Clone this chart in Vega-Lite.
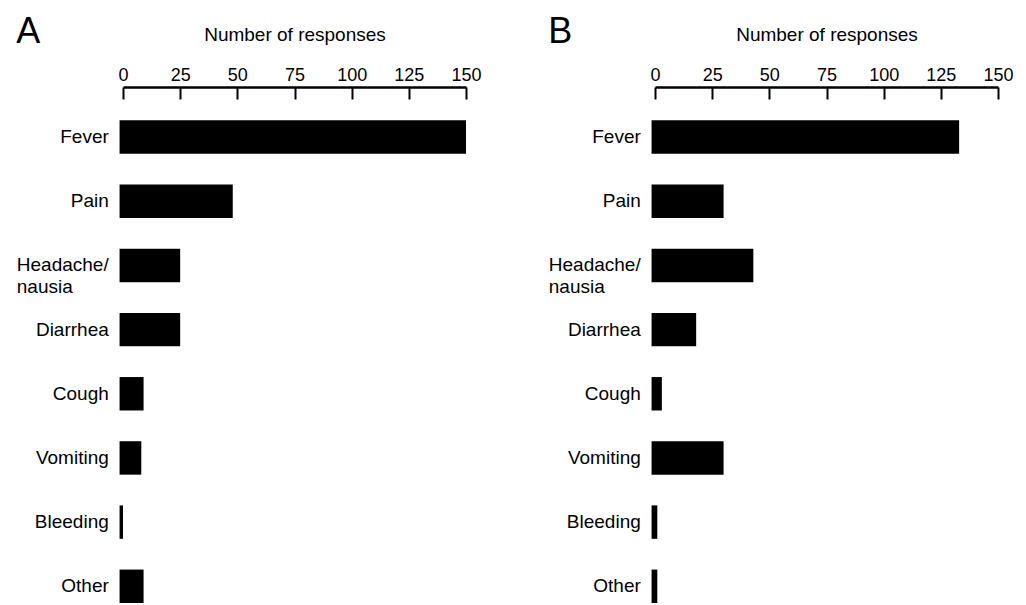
{
  "$schema": "https://vega.github.io/schema/vega-lite/v6.json",
  "padding": {"left": 16, "top": 14, "right": 5, "bottom": 0},
  "spacing": 66,
  "config": {
    "font": "Liberation Sans",
    "view": {"stroke": null},
    "title": {"fontSize": 36, "fontWeight": "normal", "color": "black", "anchor": "start", "frame": "bounds", "baseline": "alphabetic"}
  },
  "data": {
    "values": [
      {"panel": "A", "symptom": "Fever", "count": 150},
      {"panel": "A", "symptom": "Pain", "count": 48},
      {"panel": "A", "symptom": "Headache/nausia", "count": 25},
      {"panel": "A", "symptom": "Diarrhea", "count": 25},
      {"panel": "A", "symptom": "Cough", "count": 9},
      {"panel": "A", "symptom": "Vomiting", "count": 8},
      {"panel": "A", "symptom": "Bleeding", "count": 0},
      {"panel": "A", "symptom": "Other", "count": 9},
      {"panel": "B", "symptom": "Fever", "count": 133},
      {"panel": "B", "symptom": "Pain", "count": 30},
      {"panel": "B", "symptom": "Headache/nausia", "count": 43},
      {"panel": "B", "symptom": "Diarrhea", "count": 18},
      {"panel": "B", "symptom": "Cough", "count": 3},
      {"panel": "B", "symptom": "Vomiting", "count": 30},
      {"panel": "B", "symptom": "Bleeding", "count": 1},
      {"panel": "B", "symptom": "Other", "count": 1}
    ]
  },
  "hconcat": [
    {
      "title": {"text": "A", "dy": 30},
      "width": 343,
      "height": 516,
      "transform": [{"filter": "datum.panel == 'A'"}],
      "mark": {"type": "bar", "color": "black"},
      "encoding": {
        "y": {
          "field": "symptom", "type": "nominal",
          "sort": ["Fever", "Pain", "Headache/nausia", "Diarrhea", "Cough", "Vomiting", "Bleeding", "Other"],
          "scale": {"paddingInner": 0.479, "paddingOuter": 0.26, "align": 1},
          "axis": {"title": null, "domain": false, "ticks": false, "labelFontSize": 19, "labelColor": "black", "labelLineHeight": 22,
                   "labelAlign": {"condition": {"test": "datum.value == 'Headache/nausia'", "value": "left"}, "value": "right"},
                   "labelPadding": {"condition": {"test": "datum.value == 'Headache/nausia'", "value": 106.7}, "value": 14.7},
                   "labelExpr": "datum.value == 'Headache/nausia' ? ['Headache/', 'nausia'] : datum.value"}
        },
        "x": {
          "field": "count", "type": "quantitative",
          "scale": {"domain": [0, 150], "nice": false},
          "axis": {"orient": "top", "values": [0, 25, 50, 75, 100, 125, 150], "title": "Number of responses", "grid": false,
                   "domainWidth": 2.5, "domainColor": "black", "tickColor": "black", "tickWidth": 2, "tickSize": -12,
                   "labelFontSize": 18, "labelColor": "black", "labelPadding": 15, "labelFlush": false,
                   "titleFontSize": 19, "titleFontWeight": "normal", "titleColor": "black", "titlePadding": 22}
        },
        "x2": {"datum": -1.5}
      }
    },
    {
      "title": {"text": "B", "dy": 30},
      "width": 343,
      "height": 516,
      "transform": [{"filter": "datum.panel == 'B'"}],
      "mark": {"type": "bar", "color": "black"},
      "encoding": {
        "y": {
          "field": "symptom", "type": "nominal",
          "sort": ["Fever", "Pain", "Headache/nausia", "Diarrhea", "Cough", "Vomiting", "Bleeding", "Other"],
          "scale": {"paddingInner": 0.479, "paddingOuter": 0.26, "align": 1},
          "axis": {"title": null, "domain": false, "ticks": false, "labelFontSize": 19, "labelColor": "black", "labelLineHeight": 22,
                   "labelAlign": {"condition": {"test": "datum.value == 'Headache/nausia'", "value": "left"}, "value": "right"},
                   "labelPadding": {"condition": {"test": "datum.value == 'Headache/nausia'", "value": 106.7}, "value": 14.7},
                   "labelExpr": "datum.value == 'Headache/nausia' ? ['Headache/', 'nausia'] : datum.value"}
        },
        "x": {
          "field": "count", "type": "quantitative",
          "scale": {"domain": [0, 150], "nice": false},
          "axis": {"orient": "top", "values": [0, 25, 50, 75, 100, 125, 150], "title": "Number of responses", "grid": false,
                   "domainWidth": 2.5, "domainColor": "black", "tickColor": "black", "tickWidth": 2, "tickSize": -12,
                   "labelFontSize": 18, "labelColor": "black", "labelPadding": 15, "labelFlush": false,
                   "titleFontSize": 19, "titleFontWeight": "normal", "titleColor": "black", "titlePadding": 22}
        },
        "x2": {"datum": -1.5}
      }
    }
  ]
}
